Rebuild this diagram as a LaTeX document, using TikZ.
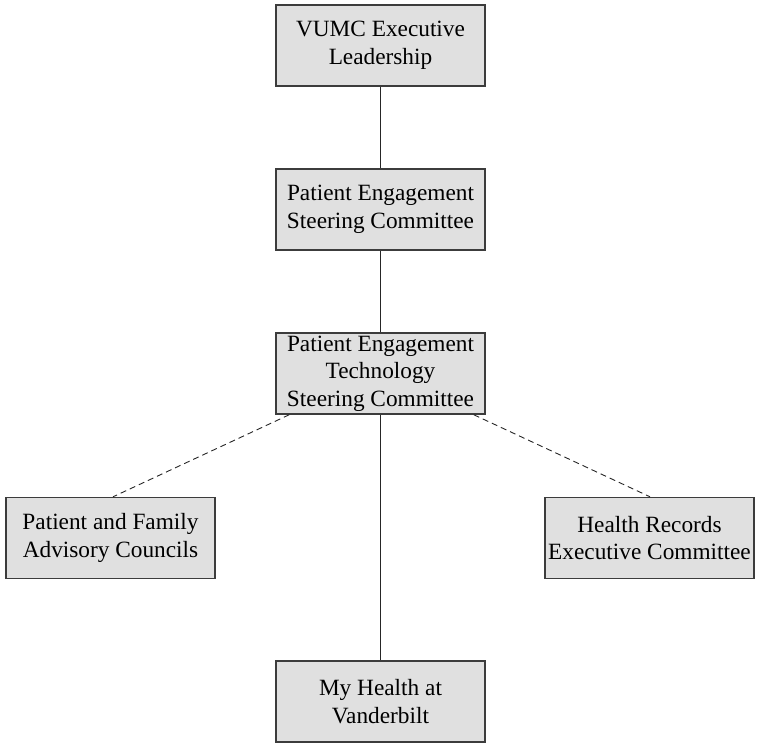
\documentclass[tikz,border=0pt]{standalone}
\usepackage{fontspec}
\setmainfont{Liberation Serif}
\usepackage{xcolor}
\definecolor{boxfill}{RGB}{224,224,224}
\definecolor{boxline}{RGB}{60,60,60}

\tikzset{
  unitbox/.style={draw=boxline, line width=1.4pt, fill=boxfill, minimum width=209pt,
    minimum height=81pt, inner sep=0pt, align=center,
    font=\fontsize{23.3}{27.5}\selectfont},
  link/.style={draw=black!85, line width=0.9pt},
  dotlink/.style={link, dash pattern=on 6pt off 4pt}
}

\begin{document}
\begin{tikzpicture}[x=1pt, y=-1pt, line cap=butt, line join=miter]
		
		\useasboundingbox (0,0) rectangle (760,748);
		
		% The chain of committees down the middle
		\node[unitbox] (exec)  at (380.5,45.5)  {VUMC Executive\\Leadership};
		\node[unitbox] (pesc)  at (380.5,209.5) {Patient Engagement\\Steering Committee};
		\node[unitbox] (petsc) at (380.5,373.5) {Patient Engagement\\Technology\\Steering Committee};
		\node[unitbox] (mhav)  at (380.5,701.5) {My Health at\\Vanderbilt};
		
		% Advisory bodies on either side
		\node[unitbox] (pfac)  at (110.5,538)   {Patient and Family\\Advisory Councils};
		\node[unitbox] (hrec)  at (649.5,538)   {Health Records\\Executive Committee};
		
		% Reporting lines
		\draw[link] (exec) -- (pesc);
		\draw[link] (pesc) -- (petsc);
		\draw[link] (petsc) -- (mhav);
		
		% Dashed links to the advisory bodies
		\draw[dotlink] ([xshift=14pt]petsc.south west) -- ([xshift=2.5pt]pfac.north);
		\draw[dotlink] ([xshift=-12pt]petsc.south east) -- ([xshift=0.5pt]hrec.north);
		
	\end{tikzpicture}
\end{document}
